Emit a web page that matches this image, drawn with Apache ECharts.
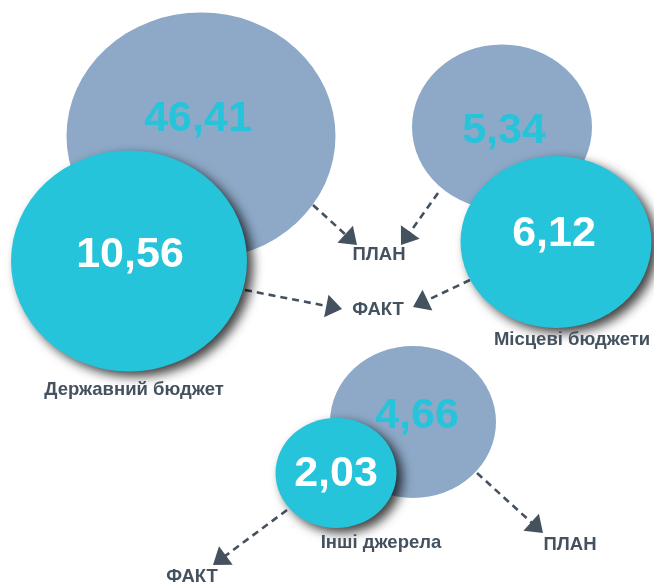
<!DOCTYPE html>
<html>
<head>
<meta charset="utf-8">
<script src="https://cdn.jsdelivr.net/npm/echarts@6/dist/echarts.min.js"></script>
<style>
html,body{margin:0;padding:0;background:#fff;}
#chart{width:654px;height:583px;}
</style>
</head>
<body>
<div id="chart"></div>
<script>
// ---- data ----
const sources = ['Державний бюджет', 'Місцеві бюджети', 'Інші джерела'];
const planValues = [46.41, 5.34, 4.66];
const factValues = [10.56, 6.12, 2.03];
const planLabel = 'ПЛАН';
const factLabel = 'ФАКТ';

// ---- layout (positions in pixel-like coordinate space of hidden axes) ----
const planLayout = [
  { c: [201, 136], size: [269, 247], off: [-3, -17] },
  { c: [502, 127], size: [180, 165], off: [2, 4] },
  { c: [413, 422], size: [166, 152], off: [4, -6] }
];
const factLayout = [
  { c: [129, 261], size: [236, 221], off: [1, -6] },
  { c: [556, 242], size: [191, 172], off: [-2, -8] },
  { c: [336, 473], size: [121, 110], off: [0, 1] }
];
const sourceLabelPos = [[134, 390], [572, 340], [381, 543]];
const planTagPos = [[379, 255], [570, 545]];
const factTagPos = [[378, 310], [192, 577]];
// arrows: [startX, startY, tipX, tipY]
const planArrows = [[313, 205, 357, 245], [438, 193, 401, 245], [477, 473, 543, 533]];
const factArrows = [[245, 290, 342, 309], [470, 280, 413, 307], [287, 510, 213, 565]];

const GREY = '#8DA9C7';
const CYAN = '#25C4DA';
const DARK = '#44515E';
const FONT = '"Liberation Sans", Arial, sans-serif';
const fmt = v => v.toFixed(2).replace('.', ',');

const chart = echarts.init(document.getElementById('chart'));

function bubbleData(values, layout, textColor) {
  return values.map((v, i) => ({
    value: [layout[i].c[0], layout[i].c[1], v],
    symbolSize: layout[i].size,
    label: {
      show: true,
      position: 'inside',
      formatter: fmt(v),
      offset: layout[i].off,
      color: textColor,
      fontSize: 43,
      fontWeight: 'bold',
      fontFamily: FONT
    }
  }));
}

function textData(texts, positions, size) {
  return texts.map((t, i) => ({
    value: positions[i],
    label: {
      show: true,
      position: 'inside',
      formatter: t,
      color: DARK,
      fontSize: size,
      fontWeight: 'bold',
      fontFamily: FONT
    }
  }));
}

const tagTexts = [planLabel, factLabel, planLabel, factLabel];
const tagPositions = [planTagPos[0], factTagPos[0], planTagPos[1], factTagPos[1]];

function renderArrow(params, api) {
  const p1 = api.coord([api.value(0), api.value(1)]);
  const p2 = api.coord([api.value(2), api.value(3)]);
  const dx = p2[0] - p1[0], dy = p2[1] - p1[1];
  const L = Math.hypot(dx, dy), ux = dx / L, uy = dy / L;
  const hl = 16, hw = 11.5;
  const bx = p2[0] - ux * hl, by = p2[1] - uy * hl;
  return {
    type: 'group',
    children: [
      {
        type: 'line',
        shape: { x1: p1[0], y1: p1[1], x2: bx + ux * 2, y2: by + uy * 2 },
        style: { stroke: DARK, lineWidth: 2.6, lineDash: [7, 5], fill: null }
      },
      {
        type: 'polygon',
        shape: { points: [[p2[0], p2[1]], [bx - uy * hw, by + ux * hw], [bx + uy * hw, by - ux * hw]] },
        style: { fill: DARK }
      }
    ]
  };
}

chart.setOption({
  animation: false,
  backgroundColor: '#ffffff',
  grid: { left: 0, right: 0, top: 0, bottom: 0 },
  xAxis: { type: 'value', min: 0, max: 654, show: false },
  yAxis: { type: 'value', min: 0, max: 583, inverse: true, show: false },
  series: [
    {
      type: 'custom',
      coordinateSystem: 'cartesian2d',
      z: 1,
      silent: true,
      renderItem: renderArrow,
      data: planArrows.concat(factArrows)
    },
    {
      type: 'scatter',
      name: planLabel,
      z: 2,
      silent: true,
      itemStyle: { color: GREY, opacity: 1 },
      data: bubbleData(planValues, planLayout, CYAN)
    },
    {
      type: 'scatter',
      name: factLabel,
      z: 3,
      silent: true,
      itemStyle: {
        color: CYAN, opacity: 1,
        shadowBlur: 11, shadowColor: 'rgba(0,0,0,0.75)',
        shadowOffsetX: 6, shadowOffsetY: 5
      },
      data: bubbleData(factValues, factLayout, '#ffffff')
    },
    {
      type: 'scatter',
      z: 4,
      silent: true,
      symbolSize: 1,
      itemStyle: { color: 'rgba(255,255,255,0)', opacity: 1 },
      data: textData(sources, sourceLabelPos, 18.5).concat(textData(tagTexts, tagPositions, 18.5))
    }
  ]
});
</script>
</body>
</html>
